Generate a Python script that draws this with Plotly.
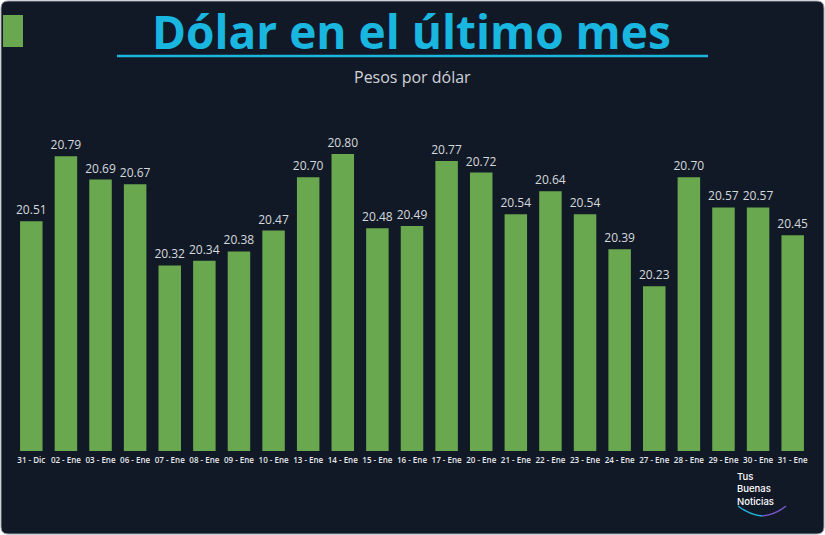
import plotly.graph_objects as go

categories = ["31 - Dic", "02 - Ene", "03 - Ene", "06 - Ene", "07 - Ene", "08 - Ene",
              "09 - Ene", "10 - Ene", "13 - Ene", "14 - Ene", "15 - Ene", "16 - Ene",
              "17 - Ene", "20 - Ene", "21 - Ene", "22 - Ene", "23 - Ene", "24 - Ene",
              "27 - Ene", "28 - Ene", "29 - Ene", "30 - Ene", "31 - Ene"]
values = [20.51, 20.79, 20.69, 20.67, 20.32, 20.34, 20.38, 20.47, 20.70, 20.80,
          20.48, 20.49, 20.77, 20.72, 20.54, 20.64, 20.54, 20.39, 20.23, 20.70,
          20.57, 20.57, 20.45]
title_text = "Dólar en el último mes"
subtitle_text = "Pesos por dólar"
logo_lines = ["Tus", "Buenas", "Noticias"]

W, H = 825, 535
L, R, T, B = 14, 15, 140, 84
BG = "#111927"
GREEN = "#6aa84f"
CYAN = "#19b6e0"

pw, ph = W - L - R, H - T - B


def px(x):
    return (x - L) / pw


def py(y):
    return (H - B - y) / ph


fig = go.Figure(go.Bar(
    x=categories, y=values, marker_color=GREEN, marker_line_width=0,
    text=[f"{v:.2f}" for v in values], textposition="outside",
    constraintext="none",
    textfont=dict(family="Open Sans", size=12, color="#d6d9de"),
    cliponaxis=False,
))

shapes = []
# card background with rounded corners
r = 7
x0, y0, x1, y1 = 1, 1, W - 1, H - 1
path = (f"M {px(x0 + r)} {py(y0)} L {px(x1 - r)} {py(y0)} "
        f"Q {px(x1)} {py(y0)} {px(x1)} {py(y0 + r)} L {px(x1)} {py(y1 - r)} "
        f"Q {px(x1)} {py(y1)} {px(x1 - r)} {py(y1)} L {px(x0 + r)} {py(y1)} "
        f"Q {px(x0)} {py(y1)} {px(x0)} {py(y1 - r)} L {px(x0)} {py(y0 + r)} "
        f"Q {px(x0)} {py(y0)} {px(x0 + r)} {py(y0)} Z")
shapes.append(dict(type="path", xref="paper", yref="paper", path=path,
                   fillcolor=BG, line=dict(color="#9aa0a8", width=1), layer="below"))
# green square top-left
shapes.append(dict(type="rect", xref="paper", yref="paper",
                   x0=px(3), x1=px(23), y0=py(47), y1=py(15),
                   fillcolor=GREEN, line_width=0))
# title underline
shapes.append(dict(type="line", xref="paper", yref="paper",
                   x0=px(117), x1=px(708), y0=py(56), y1=py(56),
                   line=dict(color=CYAN, width=2.5)))
# logo arc
shapes.append(dict(type="path", xref="paper", yref="paper",
                   path=f"M {px(738)} {py(506)} Q {px(750)} {py(515)} {px(762)} {py(516)}",
                   line=dict(color="#22b3d8", width=1.5)))
shapes.append(dict(type="path", xref="paper", yref="paper",
                   path=f"M {px(762)} {py(516)} Q {px(775)} {py(515)} {px(786)} {py(506)}",
                   line=dict(color="#7a55c8", width=1.5)))

annotations = [
    dict(text=f"<b>{title_text}</b>", x=px(411), y=py(31), xref="paper", yref="paper",
         showarrow=False, xanchor="center", yanchor="middle",
         font=dict(family="Open Sans", size=46, color=CYAN)),
    dict(text=subtitle_text, x=px(412), y=py(77), xref="paper", yref="paper",
         showarrow=False, xanchor="center", yanchor="middle",
         font=dict(family="Open Sans", size=16, color="#d0d3d8")),
    dict(text="<br>".join(logo_lines), x=px(736), y=py(489), xref="paper",
         yref="paper", showarrow=False, xanchor="left", yanchor="middle", align="left",
         borderpad=0, font=dict(family="Inter", size=9.5, color="#ffffff", weight=500)),
]

fig.update_layout(
    width=W, height=H, autosize=False,
    margin=dict(l=L, r=R, t=T, b=B, pad=0),
    paper_bgcolor="#ffffff", plot_bgcolor="rgba(0,0,0,0)",
    bargap=0.35, showlegend=False,
    shapes=shapes, annotations=annotations,
    xaxis=dict(showgrid=False, zeroline=False, showline=False,
               ticks="outside", ticklen=1, tickcolor="rgba(0,0,0,0)",
               tickfont=dict(family="Open Sans", size=8, color="#e6e8eb", weight=600),
               tickangle=0),
    yaxis=dict(range=[19.52, 19.52 + ph / 232.0], visible=False, showgrid=False),
)

fig.write_html("out.html")
